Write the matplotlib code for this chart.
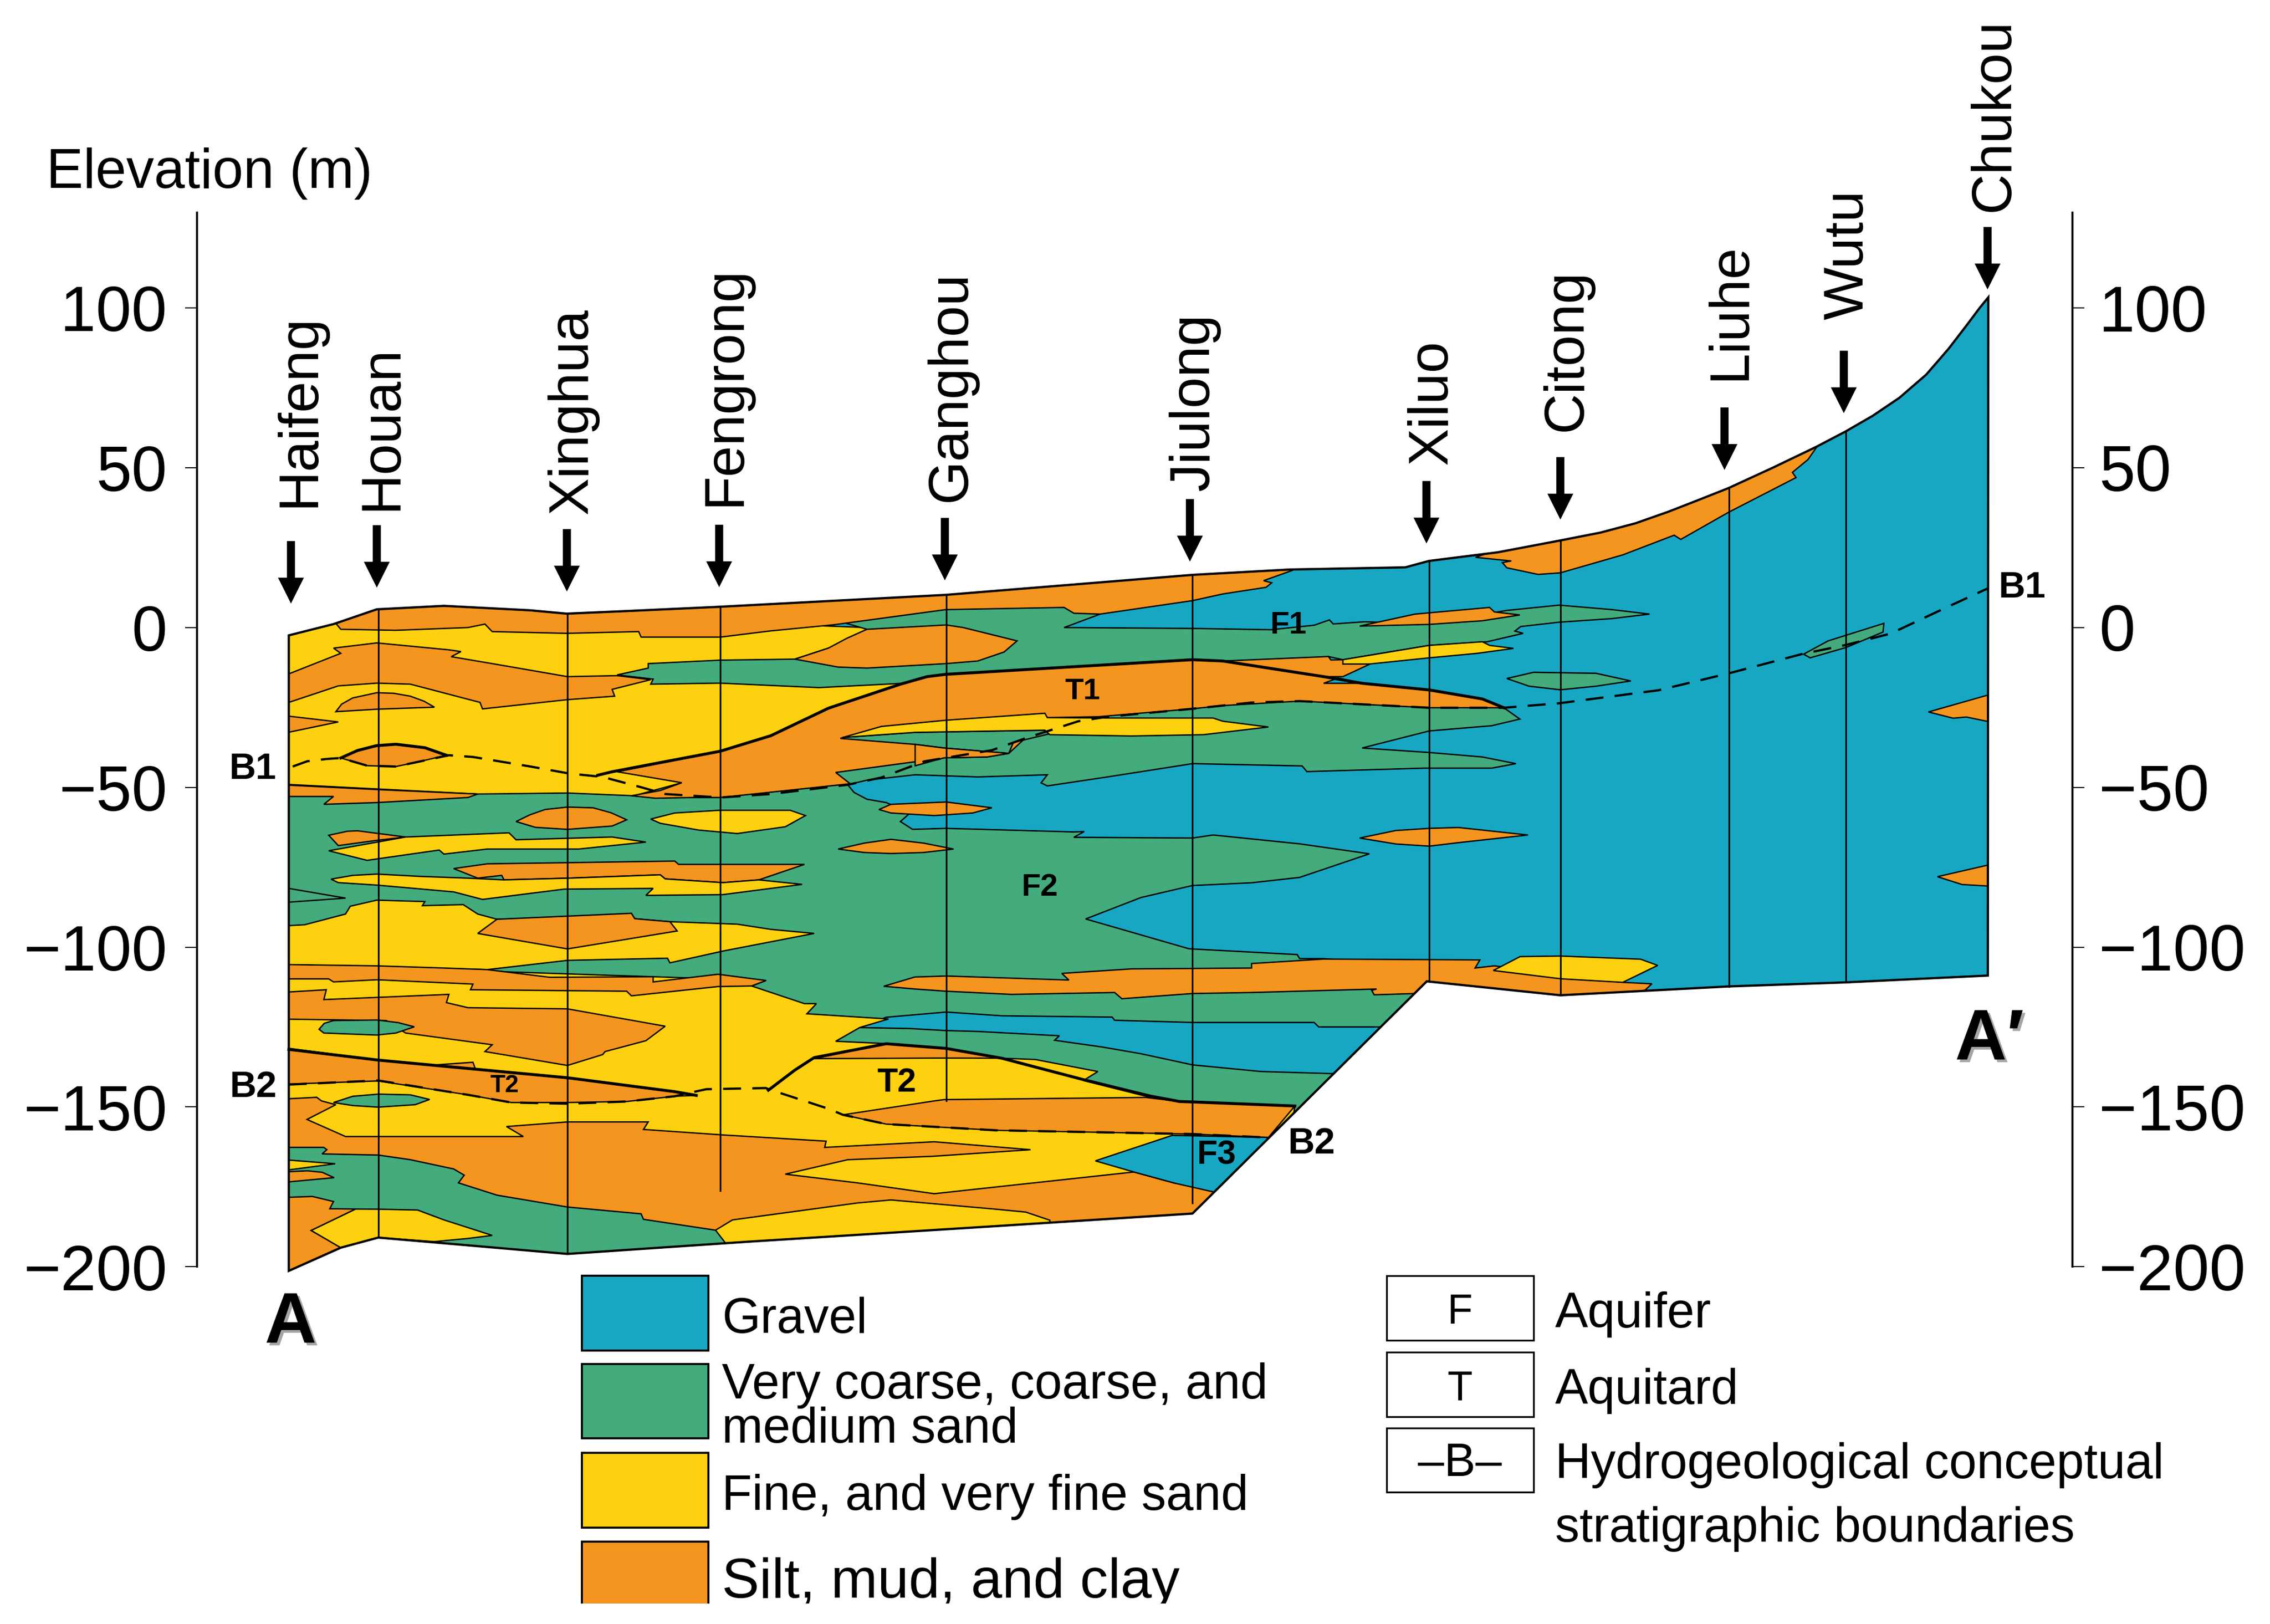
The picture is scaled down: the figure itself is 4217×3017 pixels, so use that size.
import numpy as np
import matplotlib
matplotlib.use('Agg')
import matplotlib.pyplot as plt
import matplotlib.patheffects as pe
from matplotlib.patches import Polygon, Rectangle

plt.rcParams['font.family'] = ['Liberation Sans', 'DejaVu Sans']

# colours
gravel_c = '#17a7c3'
sand_c = '#43ab7c'
fine_c = '#fdd10f'
silt_c = '#f4951f'

# section outlines are digitised from the picture, x = distance along section,
# y = trace row, rows are turned into elevation by elev() below
section = [(199.5, 439), (230.4, 431.2), (260.3, 421), (306.7, 418.6), (366.5, 421.7), (391.4, 424), (432.9, 422.2),
           (496, 419.3), (653.7, 411), (823.8, 397.2), (891, 393.5), (970.8, 392), (987, 387.6), (1034.7, 381.6),
           (1078, 373.4), (1105.6, 368), (1130, 361.5), (1151.9, 353.8), (1172, 346), (1194.4, 337.1), (1225, 323),
           (1255, 308.6), (1275.2, 298), (1293.7, 287.3), (1312.2, 274.8), (1330.7, 258.8), (1346.1, 241),
           (1358.4, 225), (1367.7, 212.6), (1373.5, 205.5), (1373.2, 674), (1275.2, 678.7),
           (1194.4, 681.5), (1077.9, 687.6), (985.6, 678), (823.8, 838.4), (687.9, 847.1), (517.6, 857.8),
           (392, 866.3), (261.3, 855), (235.4, 862), (199.5, 878)]

green_main = [(190, 540), (450, 540), (577, 530), (650, 515), (700, 510), (730, 490), (897.8, 480), (1038.9, 489),
              (1049.9, 496.8), (1030.6, 501.4), (987.4, 505), (941, 516.8), (987.4, 519.9), (1024, 523),
              (1047.2, 527.6), (1030.6, 530.7), (984.1, 530.7), (902.8, 533.1), (899.5, 529.2), (823.8, 527.6),
              (765, 536.8), (723.5, 543), (719.2, 540.9), (723.5, 535.3), (675.4, 536.8), (632.2, 535.3),
              (598.9, 539), (585.6, 542.2), (590, 547.5), (598.9, 552.2), (612.2, 554.5), (628.8, 561.6), (622, 567.6),
              (630.4, 573), (653.4, 572.3), (741.8, 574.8), (749, 574.5), (741.8, 578.5), (823.8, 579), (838, 576.9),
              (897.8, 583), (946, 589.9), (897.8, 606.2), (864.6, 609.9), (823.8, 611.8), (788.2, 620.1),
              (750, 634.9), (821.4, 655.5), (896.1, 659.5), (897.8, 662.3), (914.4, 662.3), (985, 668), (985, 678),
              (823, 860), (190, 900)]
gravel_low = [(593.9, 709.9), (612.2, 702.8), (653.7, 699.2), (692, 701.8), (768.3, 702.7), (770, 704.9),
              (823.8, 706.4), (907.8, 706.4), (911, 709.5), (960, 709.5), (930, 742), (871.2, 740.3), (823.8, 735.7),
              (788.2, 728), (761.7, 723.4), (728.5, 718.7), (731.8, 715.6), (675.4, 712.6), (653.4, 712),
              (628.8, 710.6)]
yellow_low = [(190, 672), (336.6, 671), (529.2, 677.4), (519.2, 681.2), (555.7, 693.4), (564, 693.4), (557.4, 700.4),
              (613.8, 704), (593.9, 709.9), (577.3, 719.4), (612.2, 721), (653.4, 724.3), (692, 731.1), (715.2, 732),
              (758.4, 740.3), (748.4, 746.5), (794.9, 758.2), (814.8, 761), (823.8, 761.3), (894.5, 764.1),
              (880, 860), (190, 900)]
silt_strip = [(610.5, 681.4), (632, 675), (653.7, 674.3), (738.4, 677.1), (733.5, 672.5), (781.6, 669.4),
              (864.6, 668.8), (864.6, 665.7), (914.4, 662.6), (1022.3, 663.2), (1019, 668.8), (1032.3, 667.3),
              (1121, 678.7), (1141.1, 679.7), (1136.5, 684), (1078, 700), (985, 700), (977.5, 686.4), (949.3, 687.3),
              (947.6, 684.2), (950.9, 683.3), (864.6, 685.7), (823.8, 686.4), (775, 690), (770, 685.7), (698.6, 687),
              (653.4, 684.8), (632.2, 683.3)]
fine_strip = [(1031.6, 670.5), (1050.1, 660.9), (1077.9, 660.5), (1133.4, 662.7), (1145.1, 667), (1121, 678.7),
              (1077.9, 676.2)]
fine_mid = [(190, 640), (210.5, 638.9), (238.7, 631.5), (242, 626.1), (260.3, 621.9), (293.5, 622.9), (291.8, 625.7),
            (320, 625), (330, 631.5), (343.3, 635.1), (392, 633.6), (436.2, 631.5), (437.9, 634.7), (462.8, 636.8),
            (509.3, 638.5), (532.5, 642.1), (562.4, 644.9), (499.3, 657.1), (462.8, 665.2), (461.1, 662),
            (392, 663.5), (336.6, 669.9), (260.3, 667.8), (190, 666.3)]
silt_mid = [(343.3, 635.1), (436.2, 631), (438.5, 634.7), (462.8, 636.8), (467.8, 643.2), (392, 655.6), (330, 644.9)]
silt_band = [(190, 666.3), (260.3, 667.3), (306.7, 668.8), (336.6, 669.9), (379.8, 675.2), (451.2, 674.8),
             (451.2, 678.4), (496, 673.1), (529.2, 677.4), (519.2, 681.2), (496, 681.6), (436.2, 688), (432.9, 684.8),
             (325, 683.8), (326.7, 679.9), (260.3, 676.9), (230.4, 678.4), (227.1, 676.3), (190, 676.3)]
silt_block = [(190, 685.9), (225.4, 683.8), (223.7, 690.6), (310.1, 687), (308.4, 692.7), (323.3, 696.2), (392, 697),
              (459.5, 709), (446.2, 719), (418, 726.5), (416.3, 728.6), (392, 736.1), (335, 726.5), (340, 721.8),
              (280.2, 713.7), (266.9, 705.1), (190, 704)]
green_lens_a = [(220.4, 711.1), (224, 707), (230.4, 705.1), (260.3, 704.7), (275, 706.5), (286.2, 709.4), (273.5, 713.7),
                (260.3, 715.1), (223.7, 713.7)]
t2_left = [(190, 723), (261.3, 732.4), (392, 744.6), (466.1, 754.2), (481, 756.8), (466.1, 757.4), (432.9, 761),
           (392, 761.7), (353.2, 761.7), (323.3, 756.4), (261.3, 746.8), (190, 749.3)]
t2_sliver = [(296.8, 736), (326.7, 733.9), (328.3, 738.2)]
silt_deep = [(190, 759.6), (218.8, 758.1), (222.1, 760.6), (232, 763.2), (212.1, 773.4), (238.7, 785.2),
             (361.5, 785.2), (349.9, 778.3), (392, 775.1), (447.8, 775.1), (444.5, 780.3), (499.3, 784.1),
             (570.7, 788.4), (569.7, 792.7), (645.4, 788.8), (711.9, 794.3), (643.8, 798.9), (585.6, 801.2),
             (542.5, 811.2), (592.3, 817.2), (645.4, 824.7), (698.6, 818.9), (783.3, 809.7), (811.5, 817.4),
             (839.7, 819.6), (870, 830), (830, 860), (190, 900)]
green_lens_b = [(230.4, 761.7), (243.7, 757.4), (261.3, 755.9), (283.5, 756.4), (296.8, 759.6), (286.8, 763.2),
                (261.3, 764.9), (243.7, 763.8)]
green_bot = [(190, 792.7), (223.7, 792.7), (225.8, 794.3), (222.5, 797.2), (261.3, 798), (283.5, 801.2),
             (313.4, 807.6), (320.7, 811.9), (316.7, 817.2), (343.3, 825.7), (392, 833.9), (442.9, 838.6),
             (444.5, 842.4), (494.3, 849.9), (517.6, 857.8), (517.6, 880), (190, 900)]
fine_wedge = [(190, 800.7), (231.6, 804), (190, 809.5)]
silt_wedge = [(190, 809.9), (212.5, 808.9), (222.5, 809.9), (230.8, 813.6), (190, 817.4)]
silt_corner = [(190, 827.5), (215.8, 826.6), (230.4, 830.1), (227.8, 835.1), (245.7, 835.3), (215, 850.1),
               (235.7, 862), (235, 870), (199, 885), (190, 885)]
fine_corner = [(245.7, 835.3), (261.3, 835.4), (288.5, 836), (306.7, 842.8), (340, 853.5), (323.3, 855.6),
               (300.1, 857.8), (261.3, 855), (235.4, 862), (215, 850.1)]
fine_bot = [(494.3, 849.9), (506, 842.8), (592.3, 831.1), (615.5, 829), (687.9, 835.4), (708.6, 837.4),
            (725.2, 843), (725, 880), (517.6, 880)]
t2_right = [(582.3, 770.2), (645.4, 760.6), (652.1, 759.7), (791.6, 758.2), (814.8, 761), (894.5, 764.1),
            (876.2, 785.9), (823.8, 783.5), (687.9, 780.9), (612.2, 776.6)]
t2_cap = [(562.4, 731.4), (612.2, 721.1), (653.4, 724.3), (692, 731.1), (650, 731), (562.4, 731.4)]
f3_gravel = [(756.7, 802), (809.8, 784.4), (880, 785.9), (845, 825), (811.5, 817.4), (783.3, 809.7)]
yellow_top = [(190, 420), (240, 420), (598.9, 433.6), (625.5, 472.7), (497.6, 538), (471, 540.8), (437.9, 549.8),
              (392, 547.9), (330, 548.6), (199.5, 542), (190, 542)]
silt_left = [(190, 542), (260.3, 545.5), (330, 548.6), (323.3, 551), (260.3, 554.5), (223.7, 555.7), (230.4, 550.3),
             (190, 550.3)]
green_upper = [(575.7, 428.1), (598.9, 426), (643.7, 418), (735, 415), (760, 424.3), (735.1, 433.6), (823.8, 434.2),
               (877.9, 435.1), (907.8, 432), (918.4, 428.3), (921, 431.1), (942.6, 429.6), (987.4, 431.1),
               (1040.6, 421.8), (1077, 418.1), (1113.6, 421.2), (1139.5, 424.3), (1113.6, 427.4), (1077, 429.9),
               (1050.5, 432.9), (1046.5, 436), (1052.2, 437.6), (1027.3, 443.4), (987.4, 445.9), (927.7, 455.8),
               (917.7, 453.6), (919.4, 456), (844.7, 470), (653, 480), (622.1, 472.2), (565.7, 475.1), (497.6, 472),
               (449.5, 472.7), (451.2, 469.2), (426.3, 466.3), (447.8, 461.6), (447.8, 458.5), (497.6, 456.1),
               (549.1, 455.4), (572.3, 447.8), (598.9, 434.8)]
silt_upper = [(190, 465.6), (199.5, 465.6), (235.4, 451.4), (230.4, 447.8), (260.3, 444.2), (310.1, 449),
              (318.4, 450.2), (311.7, 453.7), (340, 458.5), (392, 467.5), (426.3, 466.8), (449.5, 469.6),
              (422.9, 476.3), (424.6, 481), (392, 483.4), (333.3, 489.8), (331.6, 485.3), (283.5, 472.7),
              (260.3, 472), (233.7, 473.9), (199.5, 485.3), (190, 485.3)]
silt_gh = [(549.1, 455.4), (572.3, 447.8), (585, 441), (598.9, 434.8), (653.7, 431.8), (665.4, 433.6), (702.6, 442.8),
           (693.6, 450.5), (675.4, 456.7), (653.7, 458.5), (598.9, 461.6), (579, 460.9)]
silt_top = [(232, 430.7), (235.4, 434.8), (273.5, 435.5), (323.3, 433.6), (335, 431.2), (340, 436.4), (391.4, 437.6),
            (441.2, 436.4), (442.9, 440.2), (497.6, 440.2), (532.5, 435.9), (575.7, 431.7), (653.4, 421.2),
            (735.1, 419.7), (741.8, 423.7), (760, 424.3), (823.8, 415), (844.7, 410.4), (874.6, 405.8),
            (878.5, 402.7), (872.9, 401.2), (892.8, 394.1), (892.8, 380), (190, 380), (190, 430)]
t1_body = [(426.3, 533.2), (497.6, 519), (532.5, 508.3), (572.3, 489.3), (622.1, 472.7), (640.4, 467.5),
           (653.4, 465.9), (823.8, 455.8), (844.7, 456.7), (914.4, 467.5), (941, 472.1), (987.4, 476.7),
           (1024, 482.9), (1038.9, 489), (987.4, 489), (897.8, 484.4), (844.7, 487.5), (823.8, 489.7),
           (758.4, 495.2), (723.5, 495.8), (696.9, 520.5), (682, 523), (652.1, 523.6), (577.3, 533.7),
           (587.3, 541.5), (497.6, 551), (479.4, 551), (452.8, 551.5), (436.2, 549.8), (456.1, 546.2), (471, 540.8)]
t1_wedge = [(844.7, 456.7), (917.7, 453.6), (919.4, 456), (927.7, 455.8), (946, 459), (927.7, 467.5), (914.4, 467.5)]
t1_gravel = [(914.4, 472.1), (924.4, 468.4), (941, 472.1)]
green_t1 = [(582.3, 509.5), (632, 506), (721.8, 504.5), (725, 507), (700, 513), (696.9, 520.5), (652.1, 516.8),
            (632, 514.3), (580.6, 510.2)]
fine_t1 = [(582.3, 509.5), (608.9, 501.9), (653.7, 497.6), (721.8, 492.8), (723.5, 495.8), (765, 496.1), (838, 496.1),
           (844.7, 498.3), (876.2, 502.3), (831.4, 507.6), (781.6, 508.5), (725.2, 507.6), (721.8, 504.5),
           (685.3, 505.1), (632.2, 506)]

# lenses, one colour per list
silt_lenses = [
    [(232, 491.7), (236, 486.5), (243.7, 482.2), (260.3, 478.6), (272, 479), (283.5, 481), (293, 484.5), (300.1, 488.6),
     (260.3, 490)],
    [(190, 493), (199.5, 494.8), (233.7, 498.8), (199.5, 505.9), (190, 507)],
    [(235.4, 523.7), (247, 518.5), (260, 515.2), (273.5, 514.2), (293.5, 516.6), (308.4, 521.8), (290.1, 526.1),
     (273.5, 529.6), (253.6, 529)],
    [(356.5, 567.6), (366, 563), (376.5, 559.3), (392, 557.6), (409.7, 558.1), (422, 561.5), (432.9, 566.4), (422.9, 570.7),
     (392, 573), (369.8, 571.6)],
    [(579, 586.6), (597, 582.5), (615.5, 579.9), (638, 582.5), (658.7, 586.6), (638, 589), (615.5, 589.7), (597, 589)],
    [(607.2, 559.3), (615.5, 555.7), (653.7, 554.1), (685.2, 558.1), (672, 561.7), (645.4, 563.5), (615.5, 561.7)],
    [(227.1, 577.1), (240, 574.3), (247, 574), (280.2, 578.3), (260.3, 580.6), (233.7, 584.2)],
    [(313.4, 600.1), (336.6, 596.8), (393, 596), (466.1, 594.9), (468.8, 597.2), (555.7, 597.2), (524.2, 607.9),
     (499.3, 609.8), (459.5, 607.2), (456.1, 604.4), (393, 606.7), (348.2, 607.9), (346.6, 604.8), (330, 606.7)],
    [(939.3, 579), (964.2, 573.8), (987.4, 572.3), (1007.4, 571.7), (1055.5, 576.9), (1007.4, 582.2), (987.4, 584.6),
     (964.2, 583.1)],
    [(939.3, 432.6), (977.5, 424.3), (1029, 419.7), (1032.3, 422.8), (1049.9, 424.9), (1024, 428.9), (987.4, 431.4)],
    [(1332.2, 491.9), (1372.3, 480.5), (1380, 480), (1380, 499), (1372.3, 498.3), (1358.4, 495.4), (1349.2, 496.2)],
    [(1338.4, 605.7), (1372.3, 597.9), (1380, 597), (1380, 613), (1372.3, 612.1), (1355.4, 611.1)],
    [(632.2, 514.3), (652.1, 516.8), (696.9, 520.5), (682, 523), (652.1, 523.6), (632.2, 529.1)],
]
silt_citong = [(1019.3, 385.1), (1078, 365), (1195, 325), (1255, 298), (1255.2, 308.6), (1249, 317.5), (1238.2, 326.4),
               (1240.7, 330), (1194.4, 353.8), (1161.1, 372.7), (1156.5, 369.8), (1121, 383.4), (1077.9, 395.8),
               (1062.5, 396.9), (1040.9, 392.3), (1037.8, 388.7), (1044, 387.6)]
fine_lenses = [
    [(227.1, 587.8), (253.6, 594.4), (303.4, 587.3), (306.7, 590.1), (336.6, 586.6), (399.7, 586.6), (446.2, 581.8),
     (422.9, 578.3), (356.5, 580.2), (351.6, 575.4), (280.2, 578.3)],
    [(449.5, 565.9), (466.1, 561.7), (497.6, 559.8), (545.8, 559.8), (556.4, 563.5), (542.5, 571.2), (509.3, 575.9),
     (482.7, 573.5), (456.1, 568.8)],
    [(228.7, 607.4), (243.7, 604.8), (260.3, 603.9), (290.1, 605.5), (323.3, 606.7), (348.2, 607.9), (393, 606.7),
     (456.1, 604.4), (459.5, 607.2), (499.3, 609.8), (524.2, 607.9), (554.1, 611), (499.3, 618.1), (446.2, 618.6),
     (451.2, 613.8), (389.7, 614.3), (333.3, 621.4), (313.4, 616.2), (260.3, 611.5), (233.7, 609.8)],
    [(927.7, 455.8), (987.4, 445.9), (1024, 443.4), (1029, 445.9), (1045.5, 448), (1020.6, 451.4), (987.4, 454.5),
     (946, 458.8), (927.7, 458.8)],
]
green_lenses = [
    [(190, 613.8), (199.5, 613.8), (238.7, 620.5), (199.5, 623.3), (190, 623.3)],
    [(1040.9, 468.8), (1059.4, 464.5), (1102.6, 465.2), (1126.6, 470.5), (1102.6, 474.1), (1077.9, 476.6),
     (1056.3, 474.1)],
    [(1245.9, 452), (1262.9, 442.8), (1301.4, 430.7), (1300.8, 436.7), (1275.2, 447.4), (1250.5, 454.5)],
]

# thick aquitard boundaries
t1_line = [(413, 535.6), (422.9, 533.2), (497.6, 519), (532.5, 508.3), (572.3, 489.3), (622.1, 472.7), (640.4, 467.5),
           (653.4, 465.9), (823.8, 455.8), (844.7, 456.7), (914.4, 467.5), (941, 472.1), (987.4, 476.7),
           (1024, 482.9), (1038.9, 489)]
t2_line_left = [(199.5, 725), (261.3, 732.4), (392, 744.6), (466.1, 754.2), (481, 756.8)]
t2_line_right = [(530.8, 753.2), (549.1, 739.3), (562.4, 730.7), (612.2, 721.1), (653.4, 724.3), (692, 731.1),
                 (748.4, 745.9), (794.9, 757.3), (814.8, 761), (823.8, 761.3), (894.5, 764.1)]
lens_cap = [(235.4, 523.7), (247, 518.5), (260, 515.2), (273.5, 514.2), (293.5, 516.6), (308.4, 521.8)]

# dashed stratigraphic boundaries
b1_line = [(202.2, 529.6), (212.1, 526), (225.4, 524.4), (235.4, 523.7), (253.6, 529), (273.5, 529.6), (290.1, 526.1),
           (310.1, 521.8), (326.7, 523), (366.5, 529.6), (393, 534.4), (416.3, 536.8), (442.9, 543.9), (459.5, 548.6),
           (497.6, 551), (532.5, 548.6), (585.6, 542.2), (608.9, 537.2), (638.7, 526), (685.3, 518.3), (708.6, 510),
           (745, 498.3), (765, 495.2), (823.8, 489.7), (864.6, 485.4), (897.8, 484.4), (987.4, 489), (1038.9, 489),
           (1077.9, 485.8), (1145.7, 476.9), (1194.4, 465.2), (1244.4, 452), (1275.2, 445.6), (1306, 437.8),
           (1346.1, 419), (1373.3, 406.5)]
b2_line = [(199.5, 749.3), (261.3, 746.5), (323.3, 756.4), (353.2, 761.7), (392, 762.5), (432.9, 761), (466.1, 757.4),
           (481, 754), (488, 752.5), (529, 751.7), (533, 753.2), (572.3, 766), (582.3, 770.2), (612.2, 776.6),
           (687.9, 780.9), (823.8, 783.5), (876.2, 785.9)]

# boreholes
hole_x = [261.3, 392, 497.6, 653.7, 823.8, 987.2, 1077.9, 1194.4, 1275.2]
hole_top = [420.5, 424.5, 419.3, 410.5, 397.2, 387.6, 373.4, 337.1, 298]
hole_bottom = [855, 866.3, 822.5, 760.6, 831, 678, 687.6, 681.5, 678.7]

# sites along the top
site_names = ['Haifeng', 'Houan', 'Xinghua', 'Fengrong', 'Ganghou', 'Jiulong', 'Xiluo', 'Citong', 'Liuhe', 'Wutu',
              'Chukou']
site_x = [201, 260.3, 391.6, 496.8, 652.7, 822, 985.4, 1077.9, 1191.3, 1273.7, 1373]
site_tip = [417, 406, 408.7, 405.7, 401, 388, 375.5, 359, 324.7, 285.5, 200]
label_base = [217, 274, 405.5, 511, 667, 835, 999.5, 1092.5, 1205.5, 1287, 1387.5]
label_start = [350.3, 352.5, 355.1, 349.6, 346.6, 339, 321, 298, 262.4, 220.8, 146]

elev_ticks = [100, 50, 0, -50, -100, -150, -200]

unit_labels = ['F1', 'F2', 'F3', 'T1']
unit_x = [890, 718, 840.5, 748]
unit_y = [432, 613, 798, 478]
unit_size = [14, 14, 15, 13.5]

legend_colors = [gravel_c, sand_c, fine_c, silt_c]

W, H = 4217, 3017
K = W / 1568.2


def elev(v):
    return 100 - (np.asarray(v, float) - 212.7) * 300 / 662.5


def fx(px):
    return px / W


def fy(py):
    return 1 - py / H


fig = plt.figure(figsize=((W + 0.2) / 300, (H + 0.2) / 300), dpi=300)
ax = fig.add_axes([fx(136 * K), fy(875.2 * K), fx(1295.5 * K), (875.2 - 147) * K / H])
ax.set_xlim(136, 1431.5)
ax.set_ylim(-200, float(elev(147)))
ax.set_xticks([])
ax.set_yticks(elev_ticks)
ax.tick_params(axis='y', length=5.3, width=0.5, pad=8, labelsize=28.5)
for side in ['top', 'bottom', 'right']:
    ax.spines[side].set_visible(False)
ax.spines['left'].set_linewidth(0.9)

ax_r = ax.twinx()
ax_r.set_ylim(ax.get_ylim())
ax_r.set_yticks(elev_ticks)
ax_r.tick_params(axis='y', length=5.3, width=0.5, pad=6.5, labelsize=29)
for side in ['top', 'bottom', 'left']:
    ax_r.spines[side].set_visible(False)
ax_r.spines['right'].set_linewidth(0.9)
ax.set_zorder(ax_r.get_zorder() + 1)
ax.patch.set_visible(False)


def to_xy(pts):
    a = np.array(pts, float)
    return np.column_stack([a[:, 0], elev(a[:, 1])])


sec = Polygon(to_xy(section), closed=True, fc=gravel_c, ec='none', zorder=1, clip_on=False)
ax.add_patch(sec)


def fill(pts, color):
    p = Polygon(to_xy(pts), closed=True, fc=color, ec='black', lw=0.6, joinstyle='miter', zorder=2)
    ax.add_patch(p)
    p.set_clip_box(None)
    p.set_clip_path(sec)


# painted from the back to the front
for pts, c in [(green_main, sand_c), (gravel_low, gravel_c), (yellow_low, fine_c), (silt_strip, silt_c),
               (fine_strip, fine_c), (fine_mid, fine_c), (silt_mid, silt_c), (silt_band, silt_c), (silt_block, silt_c),
               (green_lens_a, sand_c), (t2_left, silt_c), (t2_sliver, silt_c), (silt_deep, silt_c),
               (green_lens_b, sand_c), (green_bot, sand_c), (fine_wedge, fine_c), (silt_wedge, silt_c),
               (silt_corner, silt_c), (fine_corner, fine_c), (fine_bot, fine_c), (t2_right, silt_c), (t2_cap, silt_c),
               (f3_gravel, gravel_c), (yellow_top, fine_c), (silt_left, silt_c), (green_upper, sand_c),
               (silt_upper, silt_c), (silt_gh, silt_c), (silt_top, silt_c), (t1_body, silt_c), (t1_wedge, silt_c),
               (t1_gravel, gravel_c), (green_t1, sand_c), (fine_t1, fine_c), (silt_citong, silt_c)]:
    fill(pts, c)
for pts in silt_lenses:
    fill(pts, silt_c)
for pts in fine_lenses:
    fill(pts, fine_c)
for pts in green_lenses:
    fill(pts, sand_c)

for x, t, b in zip(hole_x, hole_top, hole_bottom):
    ax.plot([x, x], [elev(t), elev(b)], color='black', lw=0.75, zorder=3)

for pts in [t1_line, t2_line_left, t2_line_right, lens_cap]:
    xy = to_xy(pts)
    ax.plot(xy[:, 0], xy[:, 1], color='black', lw=1.3, zorder=4)
for pts in [b1_line, b2_line]:
    xy = to_xy(pts)
    ax.plot(xy[:, 0], xy[:, 1], color='black', lw=1.0, dashes=(8, 5), zorder=4)

ax.add_patch(Polygon(to_xy(section), closed=True, fc='none', ec='black', lw=1.0, joinstyle='miter', zorder=5,
                     clip_on=False))

arrow_len = 116 / K * 300 / 662.5
for name, x, tip, bx, st in zip(site_names, site_x, site_tip, label_base, label_start):
    tip_m = float(elev(tip))
    ax.arrow(x, tip_m + arrow_len, 0, -arrow_len, width=15 / K, head_width=48 / K,
             head_length=48 / K * 300 / 662.5, length_includes_head=True, fc='black', ec='none', clip_on=False,
             zorder=6)
    ax.text(bx, elev(st), name, rotation=90, rotation_mode='anchor', ha='left', va='baseline', fontsize=25,
            clip_on=False)

for s, x, y, fs in zip(unit_labels, unit_x, unit_y, unit_size):
    ax.text(x, elev(y), s, fontsize=fs, fontweight='bold', ha='center', va='center', zorder=6)
ax.text(348.5, elev(750), 'T2', fontsize=11, fontweight='bold', ha='center', va='center', zorder=6)
ax.text(619.5, elev(748), 'T2', fontsize=15, fontweight='bold', ha='center', va='center', zorder=6)
ax.text(174.5, elev(531.5), 'B1', fontsize=16.5, fontweight='bold', ha='center', va='center')
ax.text(175, elev(751), 'B2', fontsize=16.5, fontweight='bold', ha='center', va='center')
ax.text(906, elev(790), 'B2', fontsize=16.5, fontweight='bold', ha='center', va='center')
ax.text(1397, elev(406), 'B1', fontsize=16.5, fontweight='bold', ha='center', va='center')

shadow = [pe.withSimplePatchShadow(offset=(1.2, -1.2), alpha=0.35)]
ax.text(200.8, elev(927.6), 'A', fontsize=32, fontweight='bold', ha='center', va='baseline', path_effects=shadow)
ax.text(1350.5, elev(732), 'A\u2032', fontsize=32, fontweight='bold', ha='left', va='baseline', path_effects=shadow)

fig.text(fx(86), fy(349), 'Elevation (m)', fontsize=24.7, ha='left', va='baseline')

# legends, the picture is cut off just under the last row
cut = Rectangle((0, fy(2979)), 1, 1 - fy(2979), transform=fig.transFigure)
left_boxes = [(2370, 2509), (2534, 2672), (2699, 2838), (2864, 3005)]
for (t, b), c in zip(left_boxes, legend_colors):
    r = Rectangle((fx(1081), fy(b)), fx(235), (b - t) / H, transform=fig.transFigure, fc=c, ec='black', lw=0.9)
    fig.add_artist(r)
    r.set_clip_path(Rectangle((0, fy(2979)), 1, 1 - fy(2979), transform=fig.transFigure))

fig.text(fx(1341), fy(2476), 'Gravel', fontsize=22)
fig.text(fx(1341), fy(2598), 'Very coarse, coarse, and', fontsize=22)
fig.text(fx(1341), fy(2680), 'medium sand', fontsize=22)
fig.text(fx(1341), fy(2805), 'Fine, and very fine sand', fontsize=22)
silt_txt = fig.text(fx(1341), fy(2968), 'Silt, mud, and clay', fontsize=25, clip_on=True)
silt_txt.set_clip_path(cut)

right_boxes = [(2370, 2490), (2512, 2632), (2653, 2772)]
for t, b in right_boxes:
    fig.add_artist(Rectangle((fx(2576), fy(b)), fx(273), (b - t) / H, transform=fig.transFigure, fc='white',
                             ec='black', lw=0.8))
fig.text(fx(2712), fy(2459), 'F', fontsize=18.4, ha='center')
fig.text(fx(2712), fy(2601), 'T', fontsize=18.4, ha='center')
fig.text(fx(2712), fy(2742), '\u2013B\u2013', fontsize=21, ha='center')
fig.text(fx(2889), fy(2466), 'Aquifer', fontsize=22)
fig.text(fx(2889), fy(2608), 'Aquitard', fontsize=22)
fig.text(fx(2889), fy(2746), 'Hydrogeological conceptual', fontsize=22.1)
fig.text(fx(2889), fy(2864), 'stratigraphic boundaries', fontsize=21.7)

fig.savefig('out.png', dpi=300)
